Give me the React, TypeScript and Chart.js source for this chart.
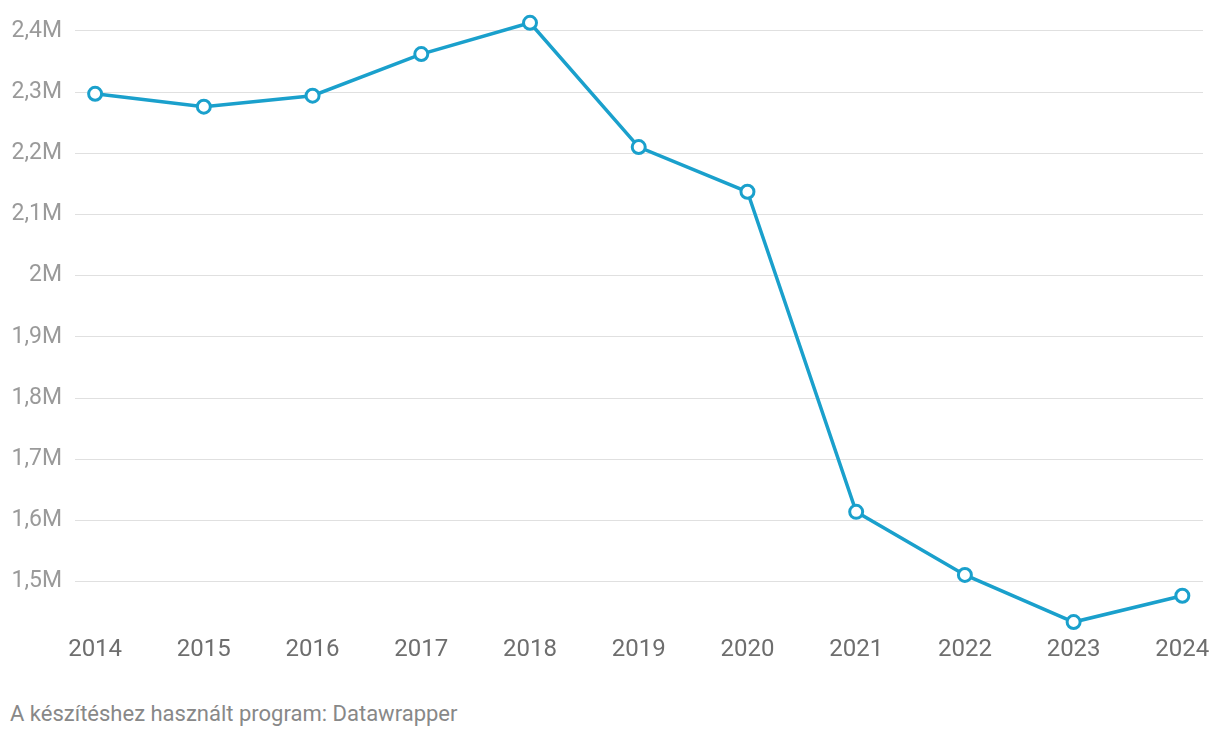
import React, { useEffect, useRef } from "react";
import { Chart, registerables } from "chart.js";

Chart.register(...registerables);

const years = [2014, 2015, 2016, 2017, 2018, 2019, 2020, 2021, 2022, 2023, 2024];
const values = [2297000, 2276000, 2294000, 2362000, 2413000, 2210000, 2137000, 1614000, 1511000, 1434000, 1477000];
const yTicks = [1500000, 1600000, 1700000, 1800000, 1900000, 2000000, 2100000, 2200000, 2300000, 2400000];
const footerText = "A készítéshez használt program: Datawrapper";

const formatM = (v: number) => {
  const m = Math.round(v / 100000) / 10;
  return (Number.isInteger(m) ? String(m) : m.toFixed(1).replace(".", ",")) + "M";
};

export default function App() {
  const ref = useRef<HTMLCanvasElement | null>(null);
  useEffect(() => {
    document.body.style.margin = "0";
    if (!ref.current) return;
    const chart = new Chart(ref.current, {
      type: "line",
      data: {
        datasets: [
          {
            data: years.map((y, i) => ({ x: y, y: values[i] })),
            borderColor: "#1aa0cc",
            borderWidth: 3.5,
            pointRadius: 6.5,
            pointBorderWidth: 3,
            pointBackgroundColor: "#ffffff",
            pointBorderColor: "#1aa0cc",
            tension: 0,
            clip: false as any,
          },
        ],
      },
      options: {
        animation: false,
        responsive: false,
        maintainAspectRatio: false,
        layout: { padding: { top: 5, right: 17, left: 0, bottom: 0 } },
        plugins: { legend: { display: false }, tooltip: { enabled: false } },
        scales: {
          x: {
            type: "linear",
            min: 2013.815,
            max: 2024.19,
            grid: { display: false, drawTicks: false },
            border: { display: false },
            afterBuildTicks: (s: any) => {
              s.ticks = years.map((v) => ({ value: v }));
            },
            afterFit: (s: any) => {
              s.height = 52;
            },
            ticks: {
              padding: 6,
              autoSkip: false,
              maxRotation: 0,
              color: "#6e6e6e",
              font: { family: "Roboto", size: 24 },
              callback: (v: any) => String(v),
            },
          },
          y: {
            min: 1421000,
            max: 2424500,
            grid: { color: "#e0e0e0", lineWidth: 1, drawTicks: false },
            border: { display: false },
            afterBuildTicks: (s: any) => {
              s.ticks = yTicks.map((v) => ({ value: v }));
            },
            afterFit: (s: any) => {
              s.width = 75;
            },
            ticks: {
              padding: 13,
              color: "#9a9a9a",
              font: { family: "Roboto", size: 23 },
              callback: (v: any) => formatM(Number(v)),
            },
          },
        },
      },
    });
    return () => chart.destroy();
  }, []);
  return (
    <div style={{ position: "relative", width: 1220, height: 738, background: "#fff", overflow: "hidden" }}>
      <canvas ref={ref} width={1220} height={693} style={{ position: "absolute", left: 0, top: -11 }} />
      <div
        style={{
          position: "absolute",
          left: 10,
          top: 703,
          fontFamily: "Roboto",
          fontSize: 22,
          lineHeight: "22px",
          color: "#888888",
          whiteSpace: "nowrap",
        }}
      >
        {footerText}
      </div>
    </div>
  );
}
